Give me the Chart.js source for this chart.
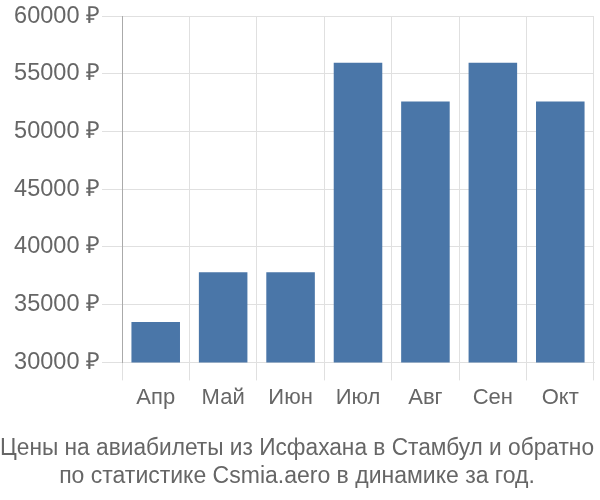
<!DOCTYPE html>
<html>
<head>
<meta charset="utf-8">
<script src="https://cdn.jsdelivr.net/npm/chart.js@4/dist/chart.umd.min.js"></script>
<style>
  html, body { margin: 0; padding: 0; background: #fff; }
  #wrap { width: 600px; height: 500px; }
</style>
</head>
<body>
<div id="wrap"><canvas id="prices" width="600" height="500"></canvas></div>
<script>
// months and average ticket prices, rubles
const months = ["Апр", "Май", "Июн", "Июл", "Авг", "Сен", "Окт"];
const prices = [33500, 37800, 37800, 55950, 52600, 55950, 52600];
const yTicks = [30000, 35000, 40000, 45000, 50000, 55000, 60000];
const titleLines = [
  "Цены на авиабилеты из Исфахана в Стамбул и обратно",
  "по статистике Csmia.aero в динамике за год."
];

const textColor = "#666";
const fontFamily = "'Liberation Sans', Arial, sans-serif";

const data = {
  labels: months,
  datasets: [{
    data: prices,
    backgroundColor: "#4a76a8",
    borderWidth: 0,
    categoryPercentage: 0.72,
    barPercentage: 1.0
  }]
};

const options = {
  responsive: false,
  animation: false,
  layout: { padding: { left: 0, right: 6, top: 2, bottom: 10 } },
  plugins: {
    legend: { display: false },
    tooltip: { enabled: false },
    title: {
      display: true,
      position: "bottom",
      text: titleLines,
      color: textColor,
      font: { family: fontFamily, size: 23, weight: "normal", lineHeight: 1.2 },
      padding: { top: 20, bottom: 0 }
    }
  },
  scales: {
    x: {
      grid: { color: "#e0e0e0", tickLength: 18, offset: true },
      border: { color: "#e0e0e0" },
      ticks: { color: textColor, font: { family: fontFamily, size: 22 }, padding: 4 }
    },
    y: {
      min: yTicks[0],
      max: yTicks[yTicks.length - 1],
      afterBuildTicks: scale => { scale.ticks = yTicks.map(v => ({ value: v })); },
      afterFit: scale => { scale.width = 122; },
      grid: { color: "#e0e0e0", tickLength: 20 },
      border: { color: "#aaaaaa" },
      ticks: {
        color: textColor,
        font: { family: fontFamily, size: 23.5 },
        padding: 2,
        callback: v => v + " ₽"
      }
    }
  }
};

new Chart(document.getElementById("prices"), { type: "bar", data: data, options: options });
</script>
</body>
</html>
